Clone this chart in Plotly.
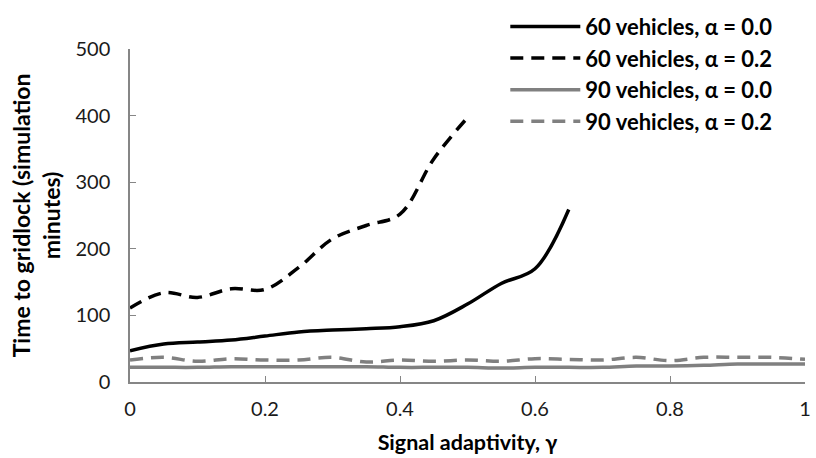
import plotly.graph_objects as go

gamma = [0.0, 0.05, 0.1, 0.15, 0.2, 0.25, 0.3, 0.35, 0.4, 0.45, 0.5, 0.55, 0.6, 0.65,
         0.7, 0.75, 0.8, 0.85, 0.9, 0.95, 1.0]

v60_a00 = [47, 57, 60, 63, 69, 75, 78, 80, 83, 92, 117, 148, 170, 259]
v60_a02 = [111, 134, 127, 140, 139, 172, 215, 235, 252, 335, 397]
v90_a00 = [22, 22, 22, 23, 23, 23, 23, 23, 22, 22, 22, 21, 22, 22, 22, 24, 24, 25, 27, 27, 27]
v90_a02 = [33, 37, 31, 35, 33, 33, 37, 30, 33, 31, 33, 31, 35, 34, 33, 37, 32, 37, 37, 37, 34]

names = ["60 vehicles, α = 0.0", "60 vehicles, α = 0.2",
         "90 vehicles, α = 0.0", "90 vehicles, α = 0.2"]

x_tickvals = [0, 0.2, 0.4, 0.6, 0.8, 1.0]
x_ticktext = ["0", "0.2", "0.4", "0.6", "0.8", "1"]
y_tickvals = [0, 100, 200, 300, 400, 500]

series = [v60_a00, v60_a02, v90_a00, v90_a02]
colors = ["#000000", "#000000", "#808080", "#808080"]
dashes = ["solid", "13px,8px", "solid", "13px,8px"]

fig = go.Figure()
for i, (vals, nm) in enumerate(zip(series, names)):
    fig.add_trace(go.Scatter(
        x=gamma[:len(vals)], y=vals, name=nm, mode="lines",
        line=dict(color=colors[i], width=3.5, dash=dashes[i], shape="spline", smoothing=1),
    ))

FONT = "Lato"
fig.update_layout(
    width=816, height=458,
    margin=dict(l=130, r=5, t=49, b=76),
    paper_bgcolor="white", plot_bgcolor="white",
    showlegend=True,
    legend=dict(
        x=0.556, y=1.13, xanchor="left", yanchor="top",
        bgcolor="rgba(0,0,0,0)",
        font=dict(family=FONT, size=22, color="#000000", weight="bold"),
        itemwidth=70,
    ),
    xaxis=dict(
        range=[0, 1], tickvals=x_tickvals, ticktext=x_ticktext,
        showgrid=False, zeroline=False, showline=True, linecolor="#868686", linewidth=1.5,
        ticks="inside", ticklen=6, tickcolor="#868686", tickwidth=1.2,
        tickfont=dict(family=FONT, size=20, color="#1a1a1a"),
        ticklabelstandoff=8, ticklabeloverflow="allow",
        title=dict(text="Signal adaptivity, γ", standoff=16,
                   font=dict(family=FONT, size=21.5, color="#000000", weight="bold")),
    ),
    yaxis=dict(
        range=[0, 500], tickvals=y_tickvals,
        showgrid=False, zeroline=False, showline=True, linecolor="#868686", linewidth=1.5,
        ticks="inside", ticklen=6, tickcolor="#868686", tickwidth=1.2,
        tickfont=dict(family=FONT, size=20, color="#1a1a1a"),
        ticklabelstandoff=14, ticklabeloverflow="allow",
        title=dict(text="Time to gridlock (simulation<br>minutes)", standoff=8,
                   font=dict(family=FONT, size=23, color="#000000", weight="bold")),
    ),
)

fig.write_html("out.html")
